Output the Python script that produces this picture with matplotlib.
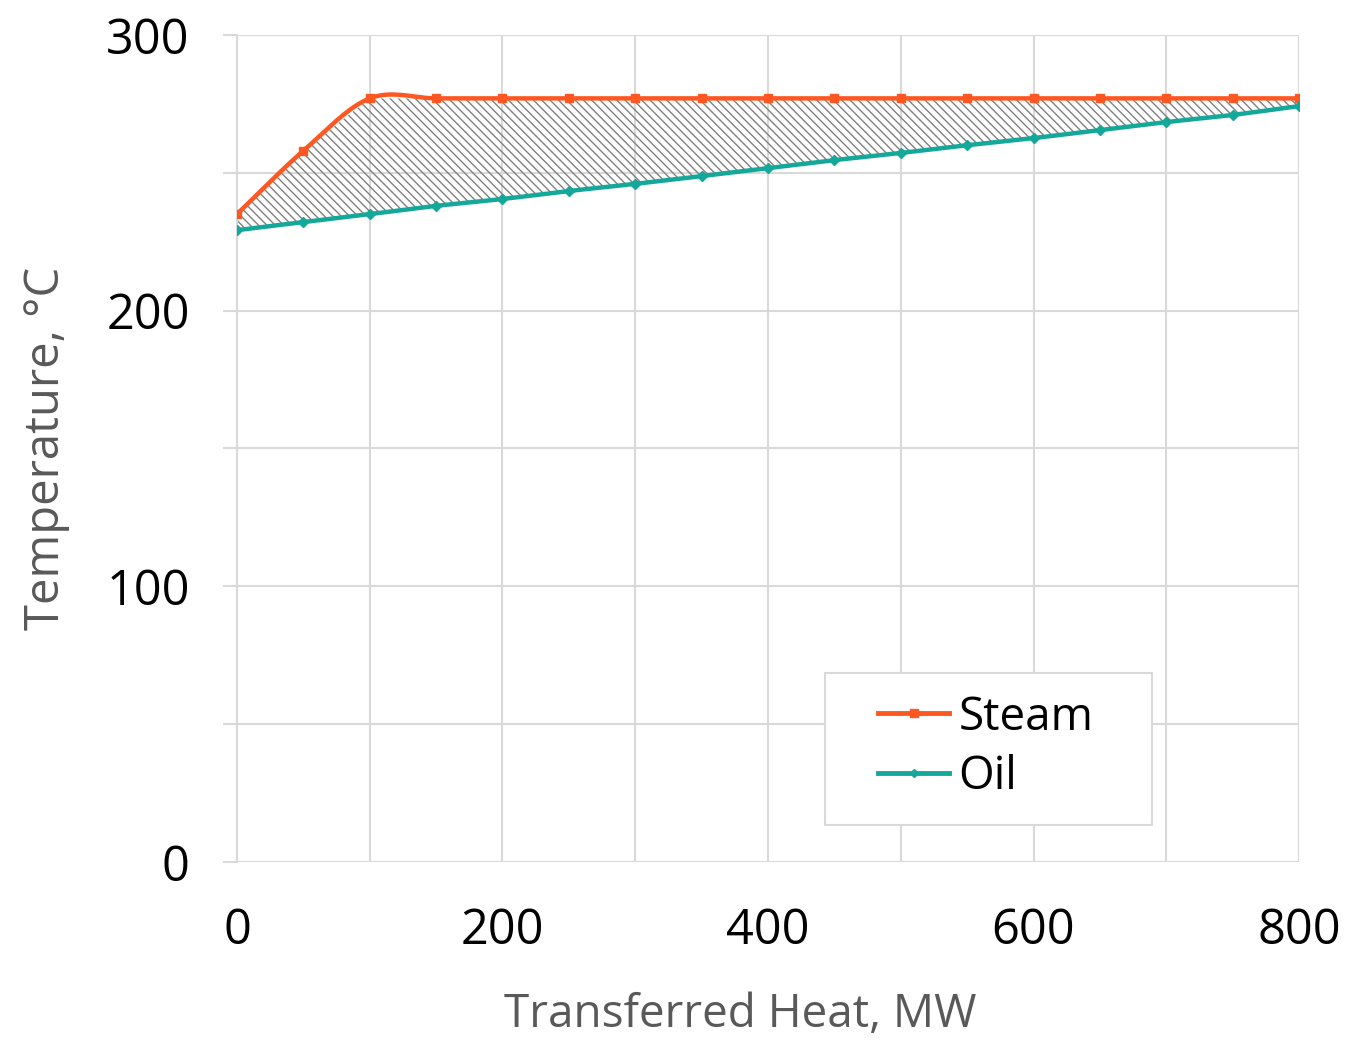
import matplotlib
matplotlib.use("Agg")
import matplotlib.pyplot as plt
from matplotlib.patches import Rectangle
import numpy as np

# data
heat = [0, 50, 100, 150, 200, 250, 300, 350, 400, 450, 500, 550, 600, 650, 700, 750, 800]
steam = [235, 258, 277, 277, 277, 277, 277, 277, 277, 277, 277, 277, 277, 277, 277, 277, 277]
oil = [229.2, 232.1, 235, 238, 240.5, 243.4, 246, 248.8, 251.7, 254.6, 257.2,
       260, 262.6, 265.5, 268.4, 271, 274.2]

steam_color = "#FF5722"
oil_color = "#14A89A"

plt.rcParams["font.family"] = ["Open Sans", "DejaVu Sans"]
plt.rcParams["hatch.color"] = "#808080"
plt.rcParams["hatch.linewidth"] = 1.0


def smooth(x, y, n=20):
    # catmull-rom style smoothing like the spreadsheet "smoothed line"
    x = np.asarray(x, float)
    y = np.asarray(y, float)
    px = np.concatenate([[2 * x[0] - x[1]], x, [2 * x[-1] - x[-2]]])
    py = np.concatenate([[2 * y[0] - y[1]], y, [2 * y[-1] - y[-2]]])
    xs, ys = [], []
    t = np.linspace(0, 1, n, endpoint=False)
    for i in range(1, len(px) - 2):
        p0, p1, p2, p3 = py[i - 1], py[i], py[i + 1], py[i + 2]
        q0, q1, q2, q3 = px[i - 1], px[i], px[i + 1], px[i + 2]
        h00 = 2 * t**3 - 3 * t**2 + 1
        h10 = t**3 - 2 * t**2 + t
        h01 = -2 * t**3 + 3 * t**2
        h11 = t**3 - t**2
        ys.extend(h00 * p1 + h10 * (p2 - p0) / 2 + h01 * p2 + h11 * (p3 - p1) / 2)
        xs.extend(h00 * q1 + h10 * (q2 - q0) / 2 + h01 * q2 + h11 * (q3 - q1) / 2)
    xs.append(x[-1])
    ys.append(y[-1])
    return np.array(xs), np.array(ys)


fig = plt.figure(figsize=(13.68, 10.41), dpi=100)
ax = fig.add_axes([0.1732, 0.172, 0.7764, 0.7944])

# hatched band between the two curves
ax.fill_between(heat, steam, oil, facecolor="none", edgecolor="#808080",
                hatch="\\\\\\\\", linewidth=0, zorder=1)

sx, sy = smooth(heat, steam)
ox, oy = smooth(heat, oil)
ax.plot(sx, sy, color=steam_color, lw=3.2, zorder=3)
ax.plot(ox, oy, color=oil_color, lw=3.2, zorder=3)
ax.plot(heat, steam, "s", color=steam_color, ms=6, zorder=4)
ax.plot(heat, oil, "D", color=oil_color, ms=5, zorder=4)

# legend proxies
ax.plot([], [], color=steam_color, lw=3.5, marker="s", ms=6, label="Steam")
ax.plot([], [], color=oil_color, lw=3.5, marker="D", ms=4, label="Oil")

ax.set_xlim(0, 800)
ax.set_ylim(0, 300)
ax.set_xticks(np.arange(0, 801, 200))
ax.set_xticks(np.arange(0, 801, 100), minor=True)
ax.set_yticks([0, 100, 200, 300])
ax.set_yticks(np.arange(0, 301, 50), minor=True)
ax.grid(True, which="both", color="#D9D9D9", lw=1.5)
ax.set_axisbelow(True)

for s in ["top", "right", "bottom"]:
    ax.spines[s].set_visible(False)
ax.spines["left"].set_color("#D9D9D9")
ax.spines["left"].set_linewidth(1.5)

ax.tick_params(axis="both", which="both", color="#D9D9D9", width=1.5, length=10,
               labelsize=35, labelcolor="black")
ax.tick_params(axis="x", which="both", length=0, pad=32)
ax.tick_params(axis="y", which="major", pad=24)

ax.set_xlabel("Transferred Heat, MW", fontsize=33, color="#595959", labelpad=26)
ax.xaxis.set_label_coords(0.4736, -0.157)
ax.set_ylabel("Temperature, °C", fontsize=34, color="#595959", labelpad=26)

# legend frame drawn separately so its size matches the reference
ax.add_patch(Rectangle((0.5537, 0.0447), 0.3079, 0.1838, transform=ax.transAxes,
                       facecolor="white", edgecolor="#D9D9D9", lw=1.5, zorder=5))
leg = ax.legend(loc="center left", bbox_to_anchor=(0.604, 0.1385),
                fontsize=33, frameon=False, handlelength=1.55,
                handletextpad=0.2, borderpad=0, labelspacing=0.3,
                borderaxespad=0)
leg.set_zorder(6)

fig.savefig("out.png", dpi=100)
